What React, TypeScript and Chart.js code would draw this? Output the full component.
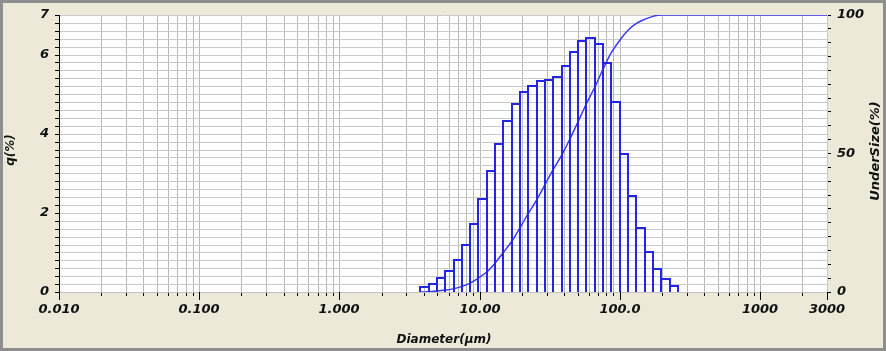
import React, { useEffect, useRef } from "react";
import { Chart, registerables } from "chart.js";

Chart.register(...registerables);

// Bin edges (µm)
const binEdges = [
  3.77, 4.32, 4.95, 5.68, 6.51, 7.46, 8.55, 9.8, 11.23, 12.87, 14.75, 16.91,
  19.38, 22.22, 25.46, 29.19, 33.46, 38.35, 43.96, 50.38, 57.75, 66.19, 75.87,
  86.96, 99.68, 114.25, 130.96, 150.11, 172.06, 197.22, 226.05, 259.1,
];
// q(%) per bin
const qValues = [
  0.13, 0.2, 0.35, 0.54, 0.81, 1.2, 1.72, 2.35, 3.06, 3.74, 4.32, 4.75, 5.06,
  5.21, 5.33, 5.37, 5.44, 5.72, 6.06, 6.35, 6.43, 6.27, 5.78, 4.79, 3.5, 2.43,
  1.61, 1.0, 0.57, 0.34, 0.16,
];
// Cumulative undersize curve
const cumDiameters = [
  3.77, 4.32, 4.95, 5.68, 6.51, 7.46, 8.55, 9.8, 11.23, 12.87, 14.75, 16.91,
  19.38, 22.22, 25.46, 29.19, 33.46, 38.35, 43.96, 50.38, 57.75, 66.19, 75.87,
  86.96, 99.68, 114.25, 130.96, 150.11, 172.06, 197.22, 226.05, 259.1, 3000,
];
const cumUnderSize = [
  0, 0.13, 0.33, 0.68, 1.22, 2.03, 3.23, 4.95, 7.3, 10.4, 14.1, 18.4, 23.2,
  28.2, 33.4, 38.8, 44.1, 49.6, 55.3, 61.4, 67.7, 74.1, 80.4, 86.2, 91.0, 94.5,
  96.9, 98.5, 99.5, 100, 100, 100, 100,
];

const xLabelValues = [0.01, 0.1, 1, 10, 100, 1000, 3000];
const xLabelTexts = ["0.010", "0.100", "1.000", "10.00", "100.0", "1000", "3000"];
const yLabelValues = [0, 2, 4, 6, 7];
const y2LabelValues = [0, 50, 100];

const xTitle = "Diameter(µm)";
const yTitle = "q(%)";
const y2Title = "UnderSize(%)";

const BLUE = "#2424e4";
const tickFont = { family: "DejaVu Sans", size: 13, style: "italic" as const, weight: "bold" as const };

function buildXTicks(): number[] {
  const out: number[] = [];
  for (let d = -2; d <= 2; d++) {
    for (let m = 1; m <= 9; m++) out.push(m * Math.pow(10, d));
  }
  out.push(1000, 2000, 3000);
  return out;
}

function near(a: number, b: number) {
  return Math.abs(a - b) <= Math.abs(b) * 1e-6 + 1e-9;
}

const framePlugin = {
  id: "frame",
  beforeDraw(chart: any) {
    const { ctx, width, height, chartArea } = chart;
    ctx.save();
    ctx.fillStyle = "#ECE9D8";
    ctx.fillRect(0, 0, width, height);
    ctx.fillStyle = "#ffffff";
    ctx.fillRect(chartArea.left, chartArea.top, chartArea.right - chartArea.left, chartArea.bottom - chartArea.top);
    ctx.strokeStyle = "#8e8e8e";
    ctx.lineWidth = 3;
    ctx.strokeRect(1.5, 1.5, width - 3, height - 3);
    ctx.restore();
  },
  afterDraw(chart: any) {
    const { ctx, chartArea, scales } = chart;
    ctx.save();
    // major decade ticks on x
    ctx.strokeStyle = "#000";
    ctx.lineWidth = 1;
    xLabelValues.forEach((v) => {
      const px = Math.round(scales.x.getPixelForValue(v)) + 0.5;
      ctx.beginPath();
      ctx.moveTo(px, chartArea.bottom);
      ctx.lineTo(px, chartArea.bottom + 8);
      ctx.stroke();
    });
    ctx.fillStyle = "#111";
    ctx.textAlign = "center";
    ctx.textBaseline = "middle";
    ctx.font = "italic bold 12px 'DejaVu Sans'";
    ctx.fillText(xTitle, 444, 340);
    ctx.save();
    ctx.translate(11, 150);
    ctx.rotate(-Math.PI / 2);
    ctx.fillText(yTitle, 0, 0);
    ctx.restore();
    ctx.save();
    ctx.font = "italic bold 13px 'DejaVu Sans'";
    ctx.translate(876, 151);
    ctx.rotate(-Math.PI / 2);
    ctx.fillText(y2Title, 0, 0);
    ctx.restore();
    ctx.restore();
  },
};

export default function App() {
  const ref = useRef<HTMLCanvasElement | null>(null);
  useEffect(() => {
    document.body.style.margin = "0";
    const histPoints: { x: number; y: number }[] = [];
    for (let i = 0; i < qValues.length; i++) {
      histPoints.push({ x: binEdges[i], y: 0 });
      histPoints.push({ x: binEdges[i], y: qValues[i] });
      histPoints.push({ x: binEdges[i + 1], y: qValues[i] });
      histPoints.push({ x: binEdges[i + 1], y: 0 });
    }
    const cumPoints = cumDiameters.map((d, i) => ({ x: d, y: cumUnderSize[i] }));
    const xTicks = buildXTicks();
    const yTicks: number[] = [];
    for (let i = 0; i <= 35; i++) yTicks.push(Math.round(i * 2) / 10);

    const chart = new Chart(ref.current as HTMLCanvasElement, {
      type: "line",
      data: {
        datasets: [
          {
            data: histPoints,
            yAxisID: "y",
            borderColor: BLUE,
            borderWidth: 2,
            pointRadius: 0,
            tension: 0,
            fill: false,
          },
          {
            data: cumPoints,
            yAxisID: "y2",
            borderColor: "#3a3aee",
            borderWidth: 1.5,
            pointRadius: 0,
            cubicInterpolationMode: "monotone",
            fill: false,
          },
        ],
      },
      options: {
        animation: false,
        responsive: false,
        devicePixelRatio: 1,
        layout: { padding: { top: 15, left: 0, right: 0, bottom: 0 } },
        plugins: { legend: { display: false }, tooltip: { enabled: false } },
        scales: {
          x: {
            type: "logarithmic",
            position: "bottom",
            min: 0.01,
            max: 3000,
            alignToPixels: true,
            afterFit: (s: any) => {
              s.height = 59;
            },
            afterBuildTicks: (s: any) => {
              s.ticks = xTicks.map((v) => ({ value: v }));
            },
            ticks: {
              autoSkip: false,
              maxRotation: 0,
              minRotation: 0,
              padding: 6,
              color: "#111",
              font: tickFont,
              callback: (v: any) => {
                const idx = xLabelValues.findIndex((lv) => near(Number(v), lv));
                return idx >= 0 ? xLabelTexts[idx] : "";
              },
            },
            grid: { color: "#b8b8b8", lineWidth: 1, tickColor: "#000", tickLength: 4 },
            border: { color: "#c2c2c2" },
          },
          y: {
            position: "left",
            min: 0,
            max: 7,
            alignToPixels: true,
            afterFit: (s: any) => {
              s.width = 59;
            },
            afterBuildTicks: (s: any) => {
              s.ticks = yTicks.map((v) => ({ value: v }));
            },
            ticks: {
              autoSkip: false,
              padding: 6,
              color: "#111",
              font: tickFont,
              callback: (v: any) => (yLabelValues.some((lv) => near(Number(v), lv)) ? String(Math.round(Number(v))) : ""),
            },
            grid: { color: "#cacaca", lineWidth: 1, tickColor: "#000", tickLength: 4 },
            border: { color: "#000" },
          },
          y2: {
            position: "right",
            min: 0,
            max: 100,
            afterFit: (s: any) => {
              s.width = 59;
            },
            ticks: {
              stepSize: 5,
              autoSkip: false,
              padding: 6,
              color: "#111",
              font: tickFont,
              callback: (v: any) => (y2LabelValues.includes(Number(v)) ? String(v) : ""),
            },
            grid: { drawOnChartArea: false, tickColor: "#000", tickLength: 4 },
            border: { color: "#c8c8c8" },
          },
        },
      },
      plugins: [framePlugin],
    } as any);
    return () => chart.destroy();
  }, []);
  return <canvas ref={ref} width={886} height={351} style={{ display: "block" }} />;
}
